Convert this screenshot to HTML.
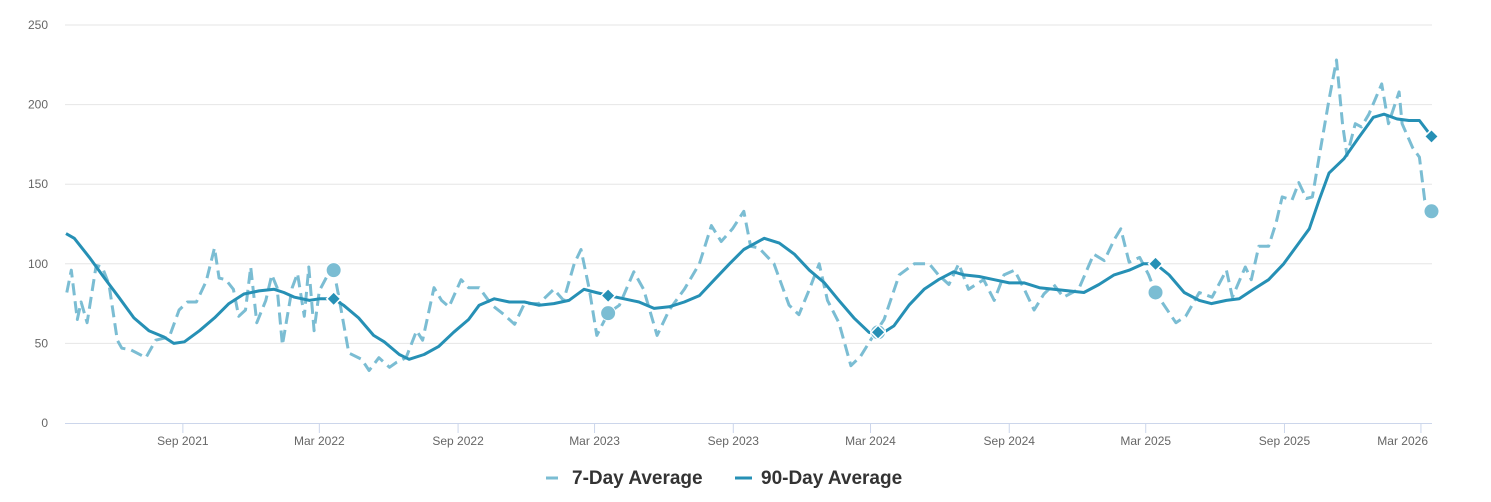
<!DOCTYPE html>
<html><head><meta charset="utf-8"><style>
body{margin:0;background:#fff;font-family:"Liberation Sans",Arial,sans-serif}
svg{display:block}
</style></head><body>
<svg id="chart" width="1491" height="502" viewBox="0 0 1491 502" xmlns="http://www.w3.org/2000/svg">
<g id="grid"></g>
<g id="yaxis"></g>
<g id="xaxis"></g>
<g id="series"></g>
<g id="legend">
  <g>
    <line x1="546" y1="478" x2="558" y2="478" stroke="#7bbdd3" stroke-width="3"/>
    <text x="572" y="484" font-size="19" font-weight="bold" fill="#333">7-Day Average</text>
  </g>
  <g>
    <line x1="735" y1="478" x2="752" y2="478" stroke="#2690b5" stroke-width="3"/>
    <text x="761" y="484" font-size="19" font-weight="bold" fill="#333">90-Day Average</text>
  </g>
</g>
</svg>
<script>
const START = new Date(2021, 2, 30);
const yTicks = [0, 50, 100, 150, 200, 250];
const xTickDates = ["2021-09-01","2022-03-01","2022-09-01","2023-03-01","2023-09-01","2024-03-01","2024-09-01","2025-03-01","2025-09-01","2026-03-01"];
const xTickLabels = ["Sep 2021","Mar 2022","Sep 2022","Mar 2023","Sep 2023","Mar 2024","Sep 2024","Mar 2025","Sep 2025","Mar 2026"];
const days90 = [0,11,31,51,70,90,110,130,143,157,177,197,216,236,256,276,289,303,323,336,355,368,388,408,422,442,455,475,494,514,534,548,568,588,608,627,647,667,687,703,720,740,760,780,800,820,840,860,880,899,926,946,966,986,1006,1025,1045,1065,1078,1098,1118,1138,1157,1177,1191,1211,1231,1251,1271,1291,1310,1330,1350,1370,1390,1410,1429,1445,1463,1483,1503,1519,1539,1556,1575,1595,1615,1635,1649,1662,1675,1695,1714,1734,1748,1765,1781,1795,1811];
const values90 = [119,116,104,91,79,66,58,54,50,51,58,66,75,81,83,84,82,79,77,78,78,74,66,55,51,43,40,43,48,57,65,74,78,76,76,74,75,77,84,82,80,78,76,72,73,76,80,90,100,109,116,113,106,96,88,77,66,57,55,61,74,84,90,95,93,92,90,88,88,85,84,83,82,87,93,96,100,100,93,82,77,75,77,78,84,90,100,113,122,140,157,166,179,192,194,191,190,190,180];
const days7 = [1,7,15,20,28,40,48,57,68,74,86,106,119,137,150,161,173,186,197,203,212,222,229,238,245,253,265,273,280,287,300,307,316,322,329,336,346,355,362,375,392,402,415,429,438,451,465,473,488,498,508,524,534,548,565,581,595,608,627,647,660,674,683,694,704,719,734,753,766,784,800,820,840,856,869,884,899,908,919,939,959,972,986,999,1010,1025,1041,1054,1067,1085,1105,1125,1145,1157,1171,1184,1197,1217,1231,1244,1258,1271,1284,1297,1310,1323,1343,1363,1377,1390,1399,1410,1424,1436,1445,1472,1485,1503,1520,1539,1547,1564,1572,1582,1595,1605,1613,1626,1635,1645,1653,1662,1675,1685,1693,1699,1710,1718,1728,1745,1754,1768,1772,1786,1795,1802,1811];
const values7 = [82,96,65,76,63,99,98,87,52,47,46,41,52,54,71,76,76,89,110,91,90,84,67,71,98,63,77,93,85,49,85,94,67,98,58,83,92,96,79,44,40,33,41,35,38,41,58,52,85,77,73,90,85,85,74,68,62,75,75,84,77,100,109,84,55,69,74,95,84,55,71,84,100,124,114,122,133,111,110,100,74,68,84,100,77,63,36,42,52,65,93,100,100,93,87,100,84,90,77,93,96,84,71,81,87,79,84,106,102,115,122,101,104,93,82,63,67,82,79,96,79,98,90,111,111,126,142,140,151,141,142,167,203,228,188,168,188,186,194,213,188,208,188,173,167,140,133];
const markerDays = [355,719,1077,1445,1811];
const marker90 = [78,80,57,100,180];
const marker7 = [96,69,57,82,133];

const NS = "http://www.w3.org/2000/svg";
const X0 = 66, PXDAY = 0.754, Y0 = 423, PXU = 1.592;
const xs = d => X0 + d * PXDAY;
const ys = v => Y0 - v * PXU;
const dayOf = s => { const p = s.split("-"); return Math.round((new Date(+p[0], +p[1]-1, +p[2]) - START) / 86400000); };
function mk(tag, attrs, parent) { const e = document.createElementNS(NS, tag); for (const k in attrs) e.setAttribute(k, attrs[k]); parent.appendChild(e); return e; }

const grid = document.getElementById("grid"), yax = document.getElementById("yaxis"), xax = document.getElementById("xaxis"), ser = document.getElementById("series");
yTicks.forEach(t => {
  if (t > 0) {
    const g = mk("line", {x1: 65, x2: 1432, y1: ys(t), y2: ys(t), stroke: "#e6e6e6", "stroke-width": 1}, grid);
    
    
  }
  const tx = mk("text", {x: 48, y: ys(t) + 4, "text-anchor": "end", "font-size": 12, fill: "#666"}, yax);
  tx.textContent = t;
  
  
});
const base = mk("line", {x1: 65, x2: 1432, y1: Y0 + 0.5, y2: Y0 + 0.5, stroke: "#ccd6eb", "stroke-width": 1}, xax);


xTickDates.forEach((s, i) => {
  const x = xs(dayOf(s));
  const tk = mk("line", {x1: x, x2: x, y1: Y0, y2: Y0 + 10, stroke: "#ccd6eb"}, xax);
  
  
  const last = i === xTickDates.length - 1;
  const tx = mk("text", {x: last ? 1428 : x, y: Y0 + 22, "text-anchor": last ? "end" : "middle", "font-size": 12, fill: "#666"}, xax);
  tx.textContent = xTickLabels[i];
  
  
});
function path(days, vals) { let d = ""; const n = Math.min(days.length, vals.length); for (let i = 0; i < n; i++) d += (i ? "L" : "M") + xs(days[i]).toFixed(1) + "," + ys(vals[i]).toFixed(1); return d; }
const p7 = mk("path", {d: path(days7, values7), fill: "none", stroke: "#7bbdd3", "stroke-width": 3, "stroke-dasharray": "12,6", "stroke-linejoin": "round"}, ser);


const p90 = mk("path", {d: path(days90, values90), fill: "none", stroke: "#2690b5", "stroke-width": 3, "stroke-linejoin": "round"}, ser);


markerDays.forEach((d, i) => {
  const x = xs(d);
  const c = mk("circle", {cx: x, cy: ys(marker7[i]), r: 7.5, fill: "#7bbdd3", stroke: "#fff", "stroke-width": 1}, ser);
  
  
  const y = ys(marker90[i]), s = 7;
  const dm = mk("path", {d: `M${x},${y-s}L${x+s},${y}L${x},${y+s}L${x-s},${y}Z`, fill: "#2690b5", stroke: "#fff", "stroke-width": 1.5}, ser);
  
  
});
</script>
</body></html>
